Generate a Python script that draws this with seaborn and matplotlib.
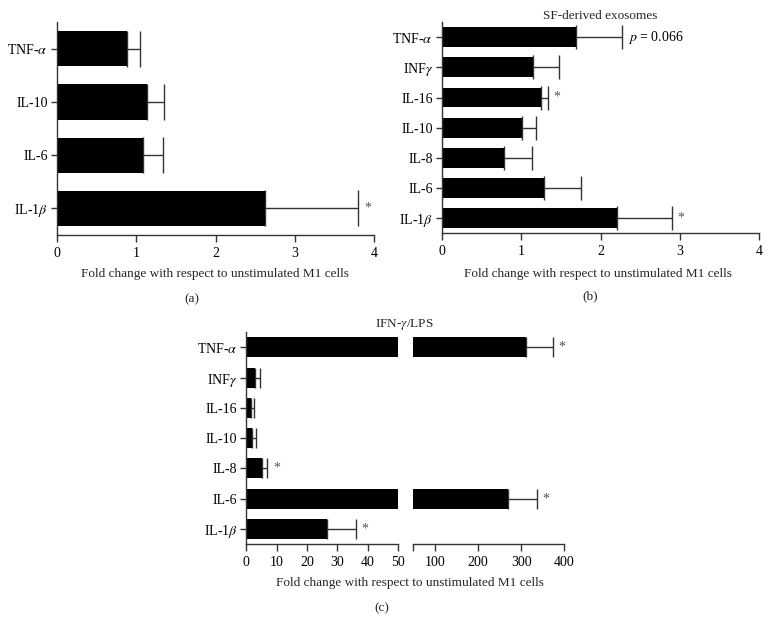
import numpy as np
import pandas as pd
import seaborn as sns
import matplotlib.pyplot as plt

sns.set_style('ticks')
plt.rcParams['font.family'] = ['Liberation Serif', 'DejaVu Serif']
plt.rcParams['mathtext.fontset'] = 'stix'

# panel (a)
a_labels = ['TNF-$\\alpha$', 'IL-10', 'IL-6', 'IL-1$\\beta$']
a_mean = [0.88, 1.14, 1.08, 2.62]
a_upper = [1.05, 1.35, 1.34, 3.80]
a_note = ['', '', '', '*']

# panel (b) SF-derived exosomes
b_labels = ['TNF-$\\alpha$', 'INF$\\gamma$', 'IL-16', 'IL-10', 'IL-8', 'IL-6', 'IL-1$\\beta$']
b_mean = [1.69, 1.15, 1.25, 1.01, 0.78, 1.29, 2.21]
b_upper = [2.27, 1.47, 1.34, 1.18, 1.13, 1.75, 2.90]
b_note = ['$p$ = 0.066', '', '*', '', '', '', '*']

# panel (c) IFN-g/LPS
c_labels = b_labels
c_mean = [312, 2.7, 1.6, 2.0, 5.0, 270, 26.7]
c_upper = [374, 4.5, 2.4, 3.2, 6.9, 337, 36]
c_note = ['*', '', '', '', '*', '*', '*']

xlabel = 'Fold change with respect to unstimulated M1 cells'
FS = 9.5
TFS = 10
line_col = '#333333'


def hbars(ax, labels, mean, upper, note, xlim, capsize, show_y=True):
    df = pd.DataFrame({'cat': labels, 'val': mean})
    sns.barplot(data=df, x='val', y='cat', orient='h', color='black',
                saturation=1, width=0.66, edgecolor='black', linewidth=0,
                ax=ax)
    pos = np.arange(len(labels))
    err = np.array(upper) - np.array(mean)
    ax.errorbar(mean, pos, xerr=[np.zeros(len(mean)), err], fmt='none',
                ecolor=line_col, elinewidth=1, capsize=capsize,
                capthick=1, zorder=0.5)
    for i, t in enumerate(note):
        if t and xlim[0] < upper[i] <= xlim[1]:
            col = 'black' if t.startswith('$p') else '#555555'
            ax.annotate(t, xy=(upper[i], i), xytext=(4, 0),
                        textcoords='offset points', ha='left', va='center',
                        fontsize=TFS, color=col, annotation_clip=False)
    ax.set_xlim(*xlim)
    ax.set_ylim(len(labels) - 0.5, -0.5)
    ax.set_xlabel('')
    ax.set_ylabel('')
    for s in ['top', 'right']:
        ax.spines[s].set_visible(False)
    for s in ['left', 'bottom']:
        ax.spines[s].set_color(line_col)
        ax.spines[s].set_linewidth(1)
    ax.tick_params(axis='both', labelsize=TFS, colors=line_col,
                   labelcolor='black', width=1)
    ax.tick_params(axis='x', length=5)
    ax.tick_params(axis='y', length=4.5, pad=2)
    if not show_y:
        ax.spines['left'].set_visible(False)
        ax.tick_params(axis='y', left=False, labelleft=False)


fig = plt.figure(figsize=(7.7, 6.35), dpi=100)

ax_a = fig.add_axes([0.074, 0.630, 0.412, 0.335])
hbars(ax_a, a_labels, a_mean, a_upper, a_note, (0, 4), 13)
ax_a.set_xticks([0, 1, 2, 3, 4])

ax_b = fig.add_axes([0.574, 0.633, 0.412, 0.332])
hbars(ax_b, b_labels, b_mean, b_upper, b_note, (0, 4), 8.5)
ax_b.set_xticks([0, 1, 2, 3, 4])
ax_b.set_title('SF-derived exosomes', fontsize=FS, pad=2)

ax_c1 = fig.add_axes([0.320, 0.143, 0.197, 0.334])
hbars(ax_c1, c_labels, c_mean, c_upper, c_note, (0, 50), 7)
ax_c1.set_xticks([0, 10, 20, 30, 40, 50])

ax_c2 = fig.add_axes([0.537, 0.143, 0.196, 0.334])
hbars(ax_c2, c_labels, c_mean, c_upper, c_note, (50, 400), 7, show_y=False)
ax_c2.set_xticks([50, 100, 200, 300, 400])
ax_c2.set_xticklabels(['', '100', '200', '300', '400'])

fig.text(0.525, 1 - 325 / 635, 'IFN-$\\gamma$/LPS', ha='center', va='center', fontsize=FS)

fig.text(215 / 770, 1 - 274 / 635, xlabel, ha='center', va='center', fontsize=FS)
fig.text(598 / 770, 1 - 274 / 635, xlabel, ha='center', va='center', fontsize=FS)
fig.text(410 / 770, 1 - 583 / 635, xlabel, ha='center', va='center', fontsize=FS)

fig.text(192 / 770, 1 - 299 / 635, '(a)', ha='center', va='center', fontsize=FS)
fig.text(590 / 770, 1 - 296 / 635, '(b)', ha='center', va='center', fontsize=FS)
fig.text(382 / 770, 1 - 608 / 635, '(c)', ha='center', va='center', fontsize=FS)

fig.savefig('out.png', dpi=100)
